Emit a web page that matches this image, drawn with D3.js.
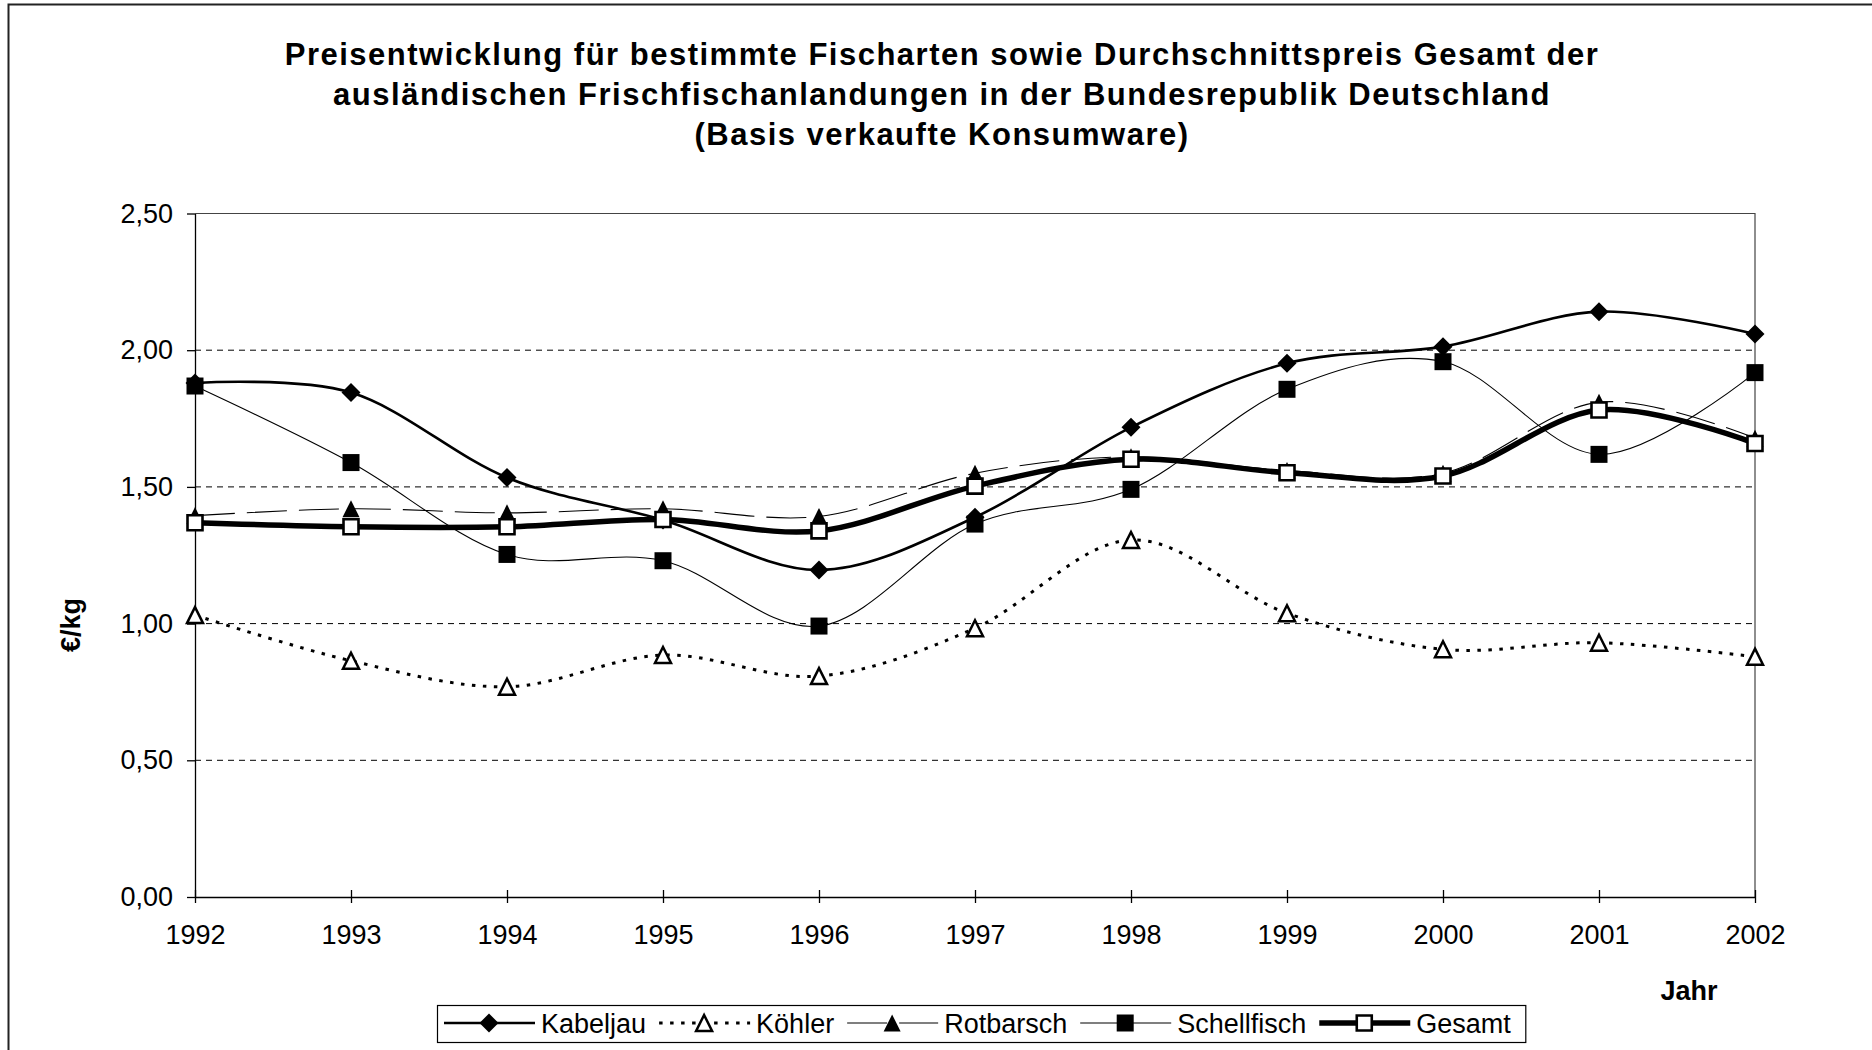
<!DOCTYPE html>
<html lang="de">
  <head>
    <meta charset="utf-8">
    <title>Preisentwicklung Fischarten</title>
    <script type="text/javascript" src="https://cdnjs.cloudflare.com/ajax/libs/d3/7.8.5/d3.min.js"></script>
    <style type="text/css">
      body {
        margin: 0;
        background: #fff;
      }
      svg text {
        font-family: "Liberation Sans", Arial, sans-serif;
        fill: #000;
      }
      .grid line {
        stroke: #000;
        stroke-width: 1;
        stroke-dasharray: 6,5;
      }
      .axis path,
      .axis line {
        stroke: #000;
        stroke-width: 1.3;
        fill: none;
      }
      .axis text {
        font-size: 27px;
      }
    </style>
  </head>
  <body>
    <script type="text/javascript">
      // values (EUR per kg)
      var years = [1992, 1993, 1994, 1995, 1996, 1997, 1998, 1999, 2000, 2001, 2002];
      var kabeljau    = [1.880, 1.845, 1.534, 1.379, 1.196, 1.389, 1.718, 1.952, 2.013, 2.141, 2.059];
      var koehler     = [1.031, 0.864, 0.769, 0.885, 0.808, 0.983, 1.306, 1.038, 0.906, 0.930, 0.879];
      var rotbarsch   = [1.395, 1.420, 1.405, 1.420, 1.392, 1.550, 1.610, 1.560, 1.550, 1.810, 1.678];
      var schellfisch = [1.869, 1.589, 1.253, 1.230, 0.991, 1.364, 1.491, 1.857, 1.958, 1.619, 1.918];
      var gesamt      = [1.369, 1.354, 1.354, 1.381, 1.339, 1.503, 1.601, 1.552, 1.540, 1.781, 1.659];

      var yTicks = [0, 0.5, 1, 1.5, 2, 2.5];
      var titleLines = [
        "Preisentwicklung für bestimmte Fischarten sowie Durchschnittspreis Gesamt der",
        "ausländischen Frischfischanlandungen in der Bundesrepublik Deutschland",
        "(Basis verkaufte Konsumware)"
      ];
      var seriesNames = ["Kabeljau", "Köhler", "Rotbarsch", "Schellfisch", "Gesamt"];

      var width = 1872,
          height = 1050,
          plotLeft = 195, plotRight = 1755,
          plotTop = 213.5, plotBottom = 897;

      // marker shapes for d3.symbol, size = full width in px
      var diamond = { draw: function(c, s) { var h = s / 2; c.moveTo(0, -h); c.lineTo(h, 0); c.lineTo(0, h); c.lineTo(-h, 0); c.closePath(); } };
      var triangle = { draw: function(c, s) { var h = s / 2; c.moveTo(0, -h); c.lineTo(h, h); c.lineTo(-h, h); c.closePath(); } };
      var square = { draw: function(c, s) { var h = s / 2; c.rect(-h, -h, s, s); } };

      var styles = [
        { values: kabeljau,    width: 2.6, dash: null,     sym: diamond,  size: 19, fill: "#000", stroke: "none", sw: 0 },
        { values: koehler,     width: 3,   dash: "3.5,7.5", sym: triangle, size: 16, fill: "#fff", stroke: "#000", sw: 2.5 },
        { values: rotbarsch,   width: 1.1, dash: "40,12",  sym: triangle, size: 17, fill: "#000", stroke: "none", sw: 0 },
        { values: schellfisch, width: 1.1, dash: null,     sym: square,   size: 17, fill: "#000", stroke: "none", sw: 0 },
        { values: gesamt,      width: 5.5, dash: null,     sym: square,   size: 15, fill: "#fff", stroke: "#000", sw: 2.6 }
      ];

      var de = d3.formatLocale({ decimal: ",", thousands: ".", grouping: [3], currency: ["", " €"] });

      var svg = d3.select("body").append("svg")
        .attr("width", width)
        .attr("height", height);

      // chart area frame (only left and top edge are inside the picture)
      svg.append("rect")
        .attr("x", 8.5).attr("y", 4.5)
        .attr("width", 1900).attr("height", 1100)
        .attr("fill", "#fff")
        .attr("stroke", "#222")
        .attr("stroke-width", 2);

      var title = svg.append("text")
        .attr("text-anchor", "middle")
        .style("font-size", "31px")
        .style("font-weight", "bold")
        .style("letter-spacing", "1.5px");
      titleLines.forEach(function(t, i) {
        title.append("tspan").attr("x", 942).attr("y", 65 + i * 40).text(t);
      });

      var x = d3.scaleLinear().domain([1992, 2002]).range([plotLeft, plotRight]);
      var y = d3.scaleLinear().domain([0, 2.5]).range([plotBottom, plotTop]);

      // gridlines
      svg.append("g").attr("class", "grid")
        .selectAll("line")
        .data(yTicks.filter(function(d) { return d > 0 && d < 2.5; }))
        .enter().append("line")
        .attr("x1", plotLeft).attr("x2", plotRight)
        .attr("y1", function(d) { return y(d); })
        .attr("y2", function(d) { return y(d); });

      // plot area border (top + right)
      svg.append("path")
        .attr("d", "M" + plotLeft + "," + y(2.5) + "H" + plotRight + "V" + plotBottom)
        .attr("fill", "none")
        .attr("stroke", "#444")
        .attr("stroke-width", 1.2);

      var yAxis = d3.axisLeft(y)
        .tickValues(yTicks)
        .tickFormat(de.format(".2f"))
        .tickSize(8)
        .tickSizeOuter(0)
        .tickPadding(14);
      svg.append("g")
        .attr("class", "axis")
        .attr("transform", "translate(" + plotLeft + ",0)")
        .call(yAxis);

      var xAxis = d3.axisBottom(x)
        .tickValues(years)
        .tickFormat(d3.format("d"))
        .tickSize(6)
        .tickSizeOuter(0)
        .tickPadding(22);
      var gx = svg.append("g")
        .attr("class", "axis")
        .attr("transform", "translate(0," + plotBottom + ")")
        .call(xAxis);
      gx.selectAll(".tick line").attr("y1", -7);

      svg.append("text")
        .attr("transform", "translate(80,625) rotate(-90)")
        .attr("text-anchor", "middle")
        .style("font-size", "27px")
        .style("font-weight", "bold")
        .text("€/kg");

      svg.append("text")
        .attr("x", 1689).attr("y", 1000)
        .attr("text-anchor", "middle")
        .style("font-size", "27px")
        .style("font-weight", "bold")
        .text("Jahr");

      var line = d3.line()
        .x(function(d, i) { return x(years[i]); })
        .y(function(d) { return y(d); })
        .curve(d3.curveCardinal.tension(0));

      styles.forEach(function(s) {
        var g = svg.append("g");
        g.append("path")
          .attr("d", line(s.values))
          .attr("fill", "none")
          .attr("stroke", "#000")
          .attr("stroke-width", s.width)
          .attr("stroke-dasharray", s.dash);
        g.selectAll("path.m")
          .data(s.values)
          .enter().append("path")
          .attr("class", "m")
          .attr("transform", function(d, i) { return "translate(" + x(years[i]) + "," + y(d) + ")"; })
          .attr("d", d3.symbol().type(s.sym).size(s.size))
          .attr("fill", s.fill)
          .attr("stroke", s.stroke)
          .attr("stroke-width", s.sw);
      });

      // legend
      var legend = svg.append("g");
      var box = legend.append("rect")
        .attr("x", 437.5).attr("y", 1005.5)
        .attr("height", 37)
        .attr("fill", "#fff")
        .attr("stroke", "#000")
        .attr("stroke-width", 1.2);

      var lx = 444, ly = 1023;
      seriesNames.forEach(function(name, i) {
        var s = styles[i];
        legend.append("line")
          .attr("x1", lx).attr("x2", lx + 91)
          .attr("y1", ly).attr("y2", ly)
          .attr("stroke", "#000")
          .attr("stroke-width", s.width)
          .attr("stroke-dasharray", s.dash);
        legend.append("path")
          .attr("transform", "translate(" + (lx + 45) + "," + ly + ")")
          .attr("d", d3.symbol().type(s.sym).size(s.size))
          .attr("fill", s.fill)
          .attr("stroke", s.stroke)
          .attr("stroke-width", s.sw);
        var t = legend.append("text")
          .attr("x", lx + 97).attr("y", ly + 9.5)
          .style("font-size", "27px")
          .text(name);
        lx = lx + 97 + t.node().getComputedTextLength() + 13;
      });
      box.attr("width", lx - 437.5 + 2);
    </script>
  </body>
</html>
